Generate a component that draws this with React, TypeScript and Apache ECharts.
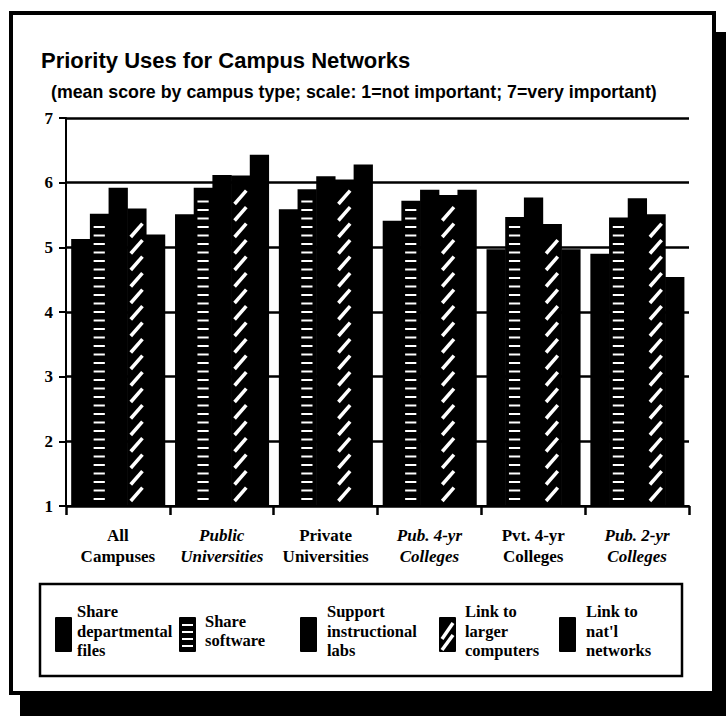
import React, { useEffect, useRef } from "react";
import * as echarts from "echarts";

// ---- data ----
const categories = [
  "All\nCampuses",
  "Public\nUniversities",
  "Private\nUniversities",
  "Pub. 4-yr\nColleges",
  "Pvt. 4-yr\nColleges",
  "Pub. 2-yr\nColleges",
];
const shareDeptFiles = [5.13, 5.51, 5.59, 5.41, 4.97, 4.9];
const shareSoftware = [5.52, 5.92, 5.9, 5.72, 5.47, 5.46];
const supportLabs = [5.92, 6.12, 6.1, 5.89, 5.77, 5.76];
const linkLarger = [5.6, 6.11, 6.05, 5.81, 5.36, 5.51];
const linkNational = [5.2, 6.43, 6.28, 5.89, 4.97, 4.54];
const seriesNames = [
  "Share departmental files",
  "Share software",
  "Support instructional labs",
  "Link to larger computers",
  "Link to nat'l networks",
];
const legendLabels = [
  "Share\ndepartmental\nfiles",
  "Share\nsoftware",
  "Support\ninstructional\nlabs",
  "Link to\nlarger\ncomputers",
  "Link to\nnat'l\nnetworks",
];
const yMin = 1;
const yMax = 7;
const yStep = 1;
const titleText = "Priority Uses for Campus Networks";
const subtitleText =
  "(mean score by campus type; scale: 1=not important; 7=very important)";

const SERIF = "'Liberation Serif', 'DejaVu Serif', serif";
const SANS = "'Liberation Sans', Arial, sans-serif";

const allSeries = [shareDeptFiles, shareSoftware, supportLabs, linkLarger, linkNational];
const patterns = ["solid", "dash", "solid", "hatch", "solid"];
const italicCats = [false, true, false, true, false, true];
const boldCats = [true, true, true, true, true, true];

function makeRender(sIdx: number, pattern: string) {
  return (params: any, api: any) => {
    const cat = api.value(0);
    const val = api.value(1);
    const top = api.coord([cat, val]);
    const base = api.coord([cat, yMin]);
    const band = api.size([1, 0])[0];
    const bw = band * 0.18;
    const x0 = top[0] - band * 0.45 + sIdx * bw;
    const children: any[] = [
      {
        type: "rect",
        shape: { x: x0, y: top[1], width: bw + 0.6, height: base[1] - top[1] },
        style: { fill: "#000" },
      },
    ];
    if (pattern === "dash") {
      const dw = bw * 0.6;
      for (let y = base[1] - 8; y > top[1] + 6; y -= 8.5) {
        children.push({
          type: "rect",
          shape: { x: x0 + (bw - dw) / 2, y: y, width: dw, height: 2 },
          style: { fill: "#fff" },
        });
      }
    } else if (pattern === "hatch") {
      const run = bw - 7;
      const rise = run * 1.15;
      for (let y = base[1] - 5; y - rise > top[1] + 3; y -= 16.5) {
        children.push({
          type: "line",
          shape: { x1: x0 + 3.5, y1: y, x2: x0 + 3.5 + run, y2: y - rise },
          style: { stroke: "#fff", lineWidth: 3.5 },
        });
      }
    }
    return { type: "group", children };
  };
}

function legendGraphics() {
  const iconX = [55, 179, 300, 439, 559];
  const textX = [77, 205, 327, 465, 586];
  const els: any[] = [];
  legendLabels.forEach((lab, i) => {
    const x = iconX[i];
    const y = 617;
    const w = 17;
    const h = 35;
    els.push({
      type: "rect",
      shape: { x, y, width: w, height: h, r: 1 },
      style: { fill: "#000" },
    });
    if (patterns[i] === "dash") {
      for (let k = 0; k < 4; k++) {
        els.push({
          type: "rect",
          shape: { x: x + 3, y: y + 7 + k * 7, width: w - 6, height: 2 },
          style: { fill: "#fff" },
        });
      }
    } else if (patterns[i] === "hatch") {
      els.push({
        type: "line",
        shape: { x1: x + 3, y1: y + 22, x2: x + w - 3, y2: y + 6 },
        style: { stroke: "#fff", lineWidth: 3.5 },
      });
      els.push({
        type: "line",
        shape: { x1: x + 3, y1: y + 33, x2: x + w - 3, y2: y + 18 },
        style: { stroke: "#fff", lineWidth: 3.5 },
      });
    }
    els.push({
      type: "text",
      x: textX[i],
      y: 631,
      style: {
        text: lab,
        fill: "#000",
        font: `bold 16.5px ${SERIF}`,
        lineHeight: 19.5,
        verticalAlign: "middle",
        align: "left",
      },
    });
  });
  return els;
}

export default function App() {
  const ref = useRef<HTMLDivElement>(null);
  useEffect(() => {
    if (!ref.current) return;
    const chart = echarts.init(ref.current, null, { renderer: "svg" });
    const option: any = {
      animation: false,
      backgroundColor: "#fff",
      title: [
        {
          text: titleText,
          left: 36,
          top: 44,
          textStyle: { fontFamily: SANS, fontWeight: "bold", fontSize: 22, color: "#000" },
        },
        {
          text: subtitleText,
          left: 46,
          top: 78,
          textStyle: { fontFamily: SANS, fontWeight: "bold", fontSize: 17.8, color: "#000" },
        },
      ],
      grid: { left: 66, right: 37, top: 118, bottom: 210, containLabel: false },
      xAxis: {
        type: "category",
        data: categories.map((c, i) => ({
          value: c,
          textStyle: {
            fontStyle: italicCats[i] ? "italic" : "normal",
            fontWeight: boldCats[i] ? "bold" : "normal",
          },
        })),
        axisLine: { show: true, lineStyle: { color: "#000", width: 2 } },
        axisTick: { show: true, length: 9, lineStyle: { color: "#000", width: 2.5 } },
        axisLabel: {
          color: "#000",
          fontFamily: SERIF,
          fontSize: 17,
          lineHeight: 21,
          margin: 19,
          interval: 0,
        },
        splitLine: { show: false },
      },
      yAxis: {
        type: "value",
        min: yMin,
        max: yMax,
        interval: yStep,
        axisLine: { show: true, lineStyle: { color: "#000", width: 2 } },
        axisTick: { show: true, length: 7, lineStyle: { color: "#000", width: 2 } },
        axisLabel: {
          color: "#000",
          fontFamily: SERIF,
          fontWeight: "bold",
          fontSize: 17,
          margin: 13,
        },
        splitLine: { show: true, lineStyle: { color: "#000", width: 2.5 } },
      },
      series: allSeries.map((vals, sIdx) => ({
        type: "custom",
        name: seriesNames[sIdx],
        renderItem: makeRender(sIdx, patterns[sIdx]),
        encode: { x: 0, y: 1 },
        data: vals.map((v, i) => [i, v]),
        z: 2 + sIdx,
      })),
      graphic: [
        // drop shadow bands
        { type: "rect", shape: { x: 712, y: 32, width: 14, height: 684 }, style: { fill: "#000" }, z: 100 },
        { type: "rect", shape: { x: 20, y: 692, width: 706, height: 24 }, style: { fill: "#000" }, z: 100 },
        // outer frame
        {
          type: "rect",
          shape: { x: 11, y: 13, width: 703, height: 680 },
          style: { fill: "none", stroke: "#000", lineWidth: 4 },
          z: 100,
        },
        // legend box
        {
          type: "rect",
          shape: { x: 40, y: 584, width: 642, height: 92 },
          style: { fill: "none", stroke: "#000", lineWidth: 2.5 },
          z: 100,
        },
        ...legendGraphics(),
      ],
    };
    chart.setOption(option);
    return () => chart.dispose();
  }, []);
  return (
    <div
      ref={ref}
      style={{ position: "fixed", left: 0, top: 0, width: 726, height: 716 }}
    />
  );
}
